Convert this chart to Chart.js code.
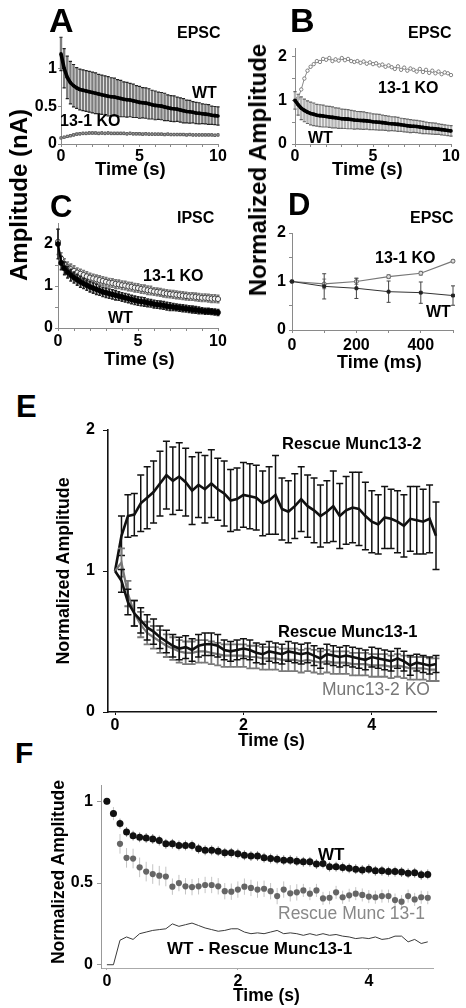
<!DOCTYPE html>
<html><head><meta charset="utf-8">
<script src="https://cdn.jsdelivr.net/npm/chart.js@4.4.1/dist/chart.umd.min.js"></script>
<style>
html,body{margin:0;padding:0;background:#fff;}
#fig{position:relative;width:466px;height:1008px;overflow:hidden;background:#fff;font-family:'Liberation Sans',Arial,Helvetica,sans-serif;}
canvas{position:absolute;}
.t{position:absolute;white-space:nowrap;line-height:1;z-index:5;}
.r{position:absolute;white-space:nowrap;line-height:1;z-index:5;transform:translate(-50%,-50%) rotate(-90deg);}
</style></head><body><div id="fig"></div>
<script>
const FONT = "'Liberation Sans', Arial, Helvetica, sans-serif";

// ---------- time bases ----------
const tDense = [0,0.2,0.4,0.6,0.8,1,1.2,1.4,1.6,1.8,2,2.2,2.4,2.6,2.8,3,3.2,3.4,3.6,3.8,4,4.2,4.4,4.6,4.8,5,5.2,5.4,5.6,5.8,6,6.2,6.4,6.6,6.8,7,7.2,7.4,7.6,7.8,8,8.2,8.4,8.6,8.8,9,9.2,9.4,9.6,9.8,10];
const tE = [0,0.1,0.2,0.3,0.4,0.5,0.6,0.7,0.8,0.9,1,1.1,1.2,1.3,1.4,1.5,1.6,1.7,1.8,1.9,2,2.1,2.2,2.3,2.4,2.5,2.6,2.7,2.8,2.9,3,3.1,3.2,3.3,3.4,3.5,3.6,3.7,3.8,3.9,4,4.1,4.2,4.3,4.4,4.5,4.6,4.7,4.8,4.9,5];
const tF = [0,0.1,0.2,0.3,0.4,0.5,0.6,0.7,0.8,0.9,1,1.1,1.2,1.3,1.4,1.5,1.6,1.7,1.8,1.9,2,2.1,2.2,2.3,2.4,2.5,2.6,2.7,2.8,2.9,3,3.1,3.2,3.3,3.4,3.5,3.6,3.7,3.8,3.9,4,4.1,4.2,4.3,4.4,4.5,4.6,4.7,4.8,4.9];
const tD = [0,100,200,300,400,500];

// ---------- Panel A (EPSC, nA) ----------
const aWT = [1.19,1.0,0.88,0.81,0.77,0.74,0.72,0.71,0.70,0.69, 0.68,0.67,0.66,0.65,0.64,0.63,0.625,0.62,0.61,0.60, 0.59,0.585,0.58,0.57,0.56,0.55,0.545,0.54,0.53,0.52, 0.51,0.505,0.50,0.49,0.48,0.47,0.465,0.46,0.45,0.44, 0.43,0.425,0.42,0.41,0.405,0.40,0.395,0.39,0.38,0.375, 0.37];
const aWTerr = [0.22,0.26,0.28,0.28,0.28,0.27,0.27,0.27,0.27,0.27, 0.27,0.27,0.26,0.26,0.26,0.26,0.25,0.25,0.24,0.24, 0.23,0.23,0.22,0.22,0.21,0.21,0.2,0.2,0.2,0.19, 0.19,0.18,0.18,0.18,0.17,0.17,0.17,0.16,0.16,0.16, 0.15,0.15,0.14,0.14,0.14,0.13,0.13,0.13,0.12,0.12, 0.12];
const aKO = [0.08,0.09,0.10,0.11,0.12,0.13,0.135,0.14,0.14,0.145, 0.145,0.145,0.14,0.145,0.14,0.145,0.14,0.14,0.14,0.14, 0.14,0.135,0.14,0.135,0.135,0.135,0.13,0.135,0.13,0.13, 0.13,0.13,0.13,0.125,0.13,0.125,0.125,0.125,0.125,0.125, 0.12,0.125,0.12,0.12,0.12,0.12,0.12,0.12,0.12,0.115, 0.12];
const aKOerr = [0.01,0.012,0.014,0.015,0.016,0.016,0.016,0.016,0.016,0.016, 0.016,0.016,0.016,0.016,0.016,0.016,0.016,0.016,0.016,0.016, 0.016,0.016,0.016,0.016,0.016,0.016,0.016,0.016,0.016,0.016, 0.015,0.015,0.015,0.015,0.015,0.015,0.015,0.015,0.015,0.015, 0.015,0.015,0.015,0.015,0.015,0.015,0.015,0.015,0.015,0.015, 0.015];

// ---------- Panel B (EPSC, normalized) ----------
const bWT = [1.0,0.9,0.82,0.77,0.73,0.70,0.68,0.66,0.65,0.64, 0.63,0.62,0.61,0.60,0.59,0.58,0.575,0.57,0.56,0.55, 0.545,0.54,0.535,0.53,0.52,0.51,0.505,0.50,0.49,0.48, 0.47,0.465,0.46,0.45,0.44,0.43,0.42,0.41,0.405,0.40, 0.39,0.38,0.37,0.36,0.355,0.35,0.34,0.33,0.32,0.31, 0.30];
const bWTerr = [0.2,0.24,0.26,0.26,0.26,0.26,0.26,0.25,0.25,0.25, 0.24,0.24,0.24,0.23,0.23,0.22,0.22,0.22,0.21,0.21, 0.2,0.2,0.2,0.19,0.19,0.18,0.18,0.18,0.17,0.17, 0.17,0.16,0.16,0.16,0.15,0.15,0.15,0.15,0.14,0.14, 0.14,0.14,0.13,0.13,0.13,0.13,0.12,0.12,0.12,0.12, 0.12];
const bKO = [1.0,1.05,1.25,1.5,1.68,1.77,1.83,1.9,1.88,1.95, 1.93,1.97,1.9,1.94,1.91,1.97,1.92,1.95,1.9,1.88, 1.9,1.86,1.89,1.84,1.87,1.83,1.85,1.8,1.82,1.77, 1.8,1.76,1.72,1.78,1.7,1.75,1.68,1.73,1.7,1.66, 1.72,1.65,1.7,1.63,1.68,1.62,1.66,1.6,1.64,1.62, 1.58];
const bKOerr = [0.03,0.04,0.04,0.04,0.04,0.04,0.04,0.04,0.04,0.04, 0.04,0.04,0.04,0.04,0.04,0.04,0.04,0.04,0.04,0.04, 0.04,0.04,0.04,0.04,0.04,0.04,0.04,0.04,0.04,0.04, 0.04,0.04,0.04,0.04,0.04,0.04,0.04,0.04,0.04,0.04, 0.04,0.04,0.04,0.04,0.04,0.04,0.04,0.04,0.04,0.04, 0.04];

// ---------- Panel C (IPSC, nA) ----------
const cWT = [2.0,1.55,1.42,1.33,1.26,1.2,1.15,1.1,1.06,1.02, 0.98,0.95,0.92,0.89,0.86,0.84,0.82,0.8,0.78,0.76, 0.74,0.72,0.7,0.68,0.66,0.64,0.63,0.62,0.6,0.59, 0.57,0.56,0.55,0.54,0.52,0.51,0.5,0.49,0.48,0.47, 0.46,0.45,0.44,0.43,0.42,0.41,0.4,0.4,0.39,0.38, 0.37];
const cWTerr = [0.35,0.16,0.15,0.14,0.14,0.13,0.13,0.13,0.12,0.12, 0.12,0.12,0.12,0.11,0.11,0.11,0.11,0.11,0.11,0.1, 0.1,0.1,0.1,0.1,0.1,0.1,0.1,0.1,0.09,0.09, 0.09,0.09,0.09,0.09,0.09,0.09,0.08,0.08,0.08,0.08, 0.08,0.08,0.08,0.08,0.08,0.07,0.07,0.07,0.07,0.07, 0.07];
const cKO = [2.05,1.65,1.52,1.45,1.4,1.36,1.32,1.29,1.26,1.23, 1.2,1.18,1.16,1.14,1.12,1.1,1.08,1.07,1.05,1.04, 1.02,1.01,0.99,0.98,0.96,0.95,0.93,0.92,0.9,0.89, 0.87,0.86,0.85,0.83,0.82,0.81,0.8,0.79,0.78,0.77, 0.76,0.75,0.75,0.74,0.73,0.72,0.72,0.71,0.7,0.7, 0.69];
const cKOerr = [0.3,0.14,0.13,0.12,0.12,0.12,0.11,0.11,0.11,0.11, 0.1,0.1,0.1,0.1,0.1,0.1,0.1,0.1,0.1,0.1, 0.1,0.1,0.1,0.1,0.1,0.1,0.1,0.1,0.1,0.1, 0.09,0.09,0.09,0.09,0.09,0.09,0.09,0.09,0.09,0.09, 0.09,0.09,0.09,0.09,0.09,0.09,0.09,0.09,0.09,0.09, 0.09];

// ---------- Panel D (EPSC, normalized, ms) ----------
const dWT = [1.0,0.9,0.86,0.79,0.77,0.71];
const dWTerr = [0,0.26,0.21,0.22,0.22,0.2];
const dKO = [1.0,0.95,1.0,1.1,1.17,1.42];
const dKOerr = [0,0.1,0.06,0.04,0.04,0.03];

// ---------- Panel E ----------
const eRescue2 = [1.0,1.25,1.39,1.40,1.48,1.52,1.56,1.62,1.68,1.64, 1.67,1.63,1.57,1.61,1.58,1.62,1.58,1.55,1.50,1.51, 1.54,1.53,1.52,1.48,1.50,1.54,1.44,1.42,1.46,1.51, 1.46,1.43,1.39,1.42,1.46,1.39,1.43,1.45,1.44,1.39, 1.35,1.33,1.38,1.37,1.35,1.32,1.37,1.36,1.35,1.37, 1.25];
const eRescue2err = [0,0.14,0.15,0.15,0.2,0.22,0.22,0.23,0.24,0.24, 0.24,0.24,0.24,0.23,0.24,0.24,0.22,0.23,0.22,0.22, 0.23,0.23,0.23,0.23,0.24,0.28,0.22,0.22,0.23,0.23, 0.22,0.23,0.22,0.22,0.25,0.23,0.24,0.25,0.26,0.24, 0.22,0.21,0.22,0.21,0.22,0.22,0.23,0.24,0.23,0.24, 0.24];
const eRescue1 = [1.0,0.93,0.78,0.70,0.65,0.60,0.57,0.53,0.50,0.47, 0.45,0.46,0.44,0.47,0.48,0.48,0.47,0.44,0.43,0.44, 0.45,0.44,0.42,0.41,0.43,0.42,0.41,0.43,0.42,0.41, 0.42,0.40,0.38,0.41,0.40,0.39,0.40,0.39,0.38,0.37, 0.39,0.38,0.37,0.36,0.38,0.36,0.33,0.35,0.34,0.33, 0.34];
const eRescue1err = [0,0.08,0.09,0.09,0.09,0.09,0.09,0.08,0.08,0.08, 0.08,0.08,0.08,0.08,0.08,0.08,0.08,0.07,0.07,0.07, 0.07,0.07,0.07,0.07,0.07,0.07,0.07,0.07,0.07,0.07, 0.07,0.07,0.07,0.07,0.07,0.07,0.07,0.07,0.07,0.07, 0.07,0.07,0.07,0.07,0.07,0.07,0.07,0.06,0.06,0.06, 0.06];
const eKO = [1.0,1.06,0.84,0.70,0.62,0.56,0.53,0.50,0.47,0.45, 0.43,0.42,0.42,0.43,0.43,0.42,0.41,0.40,0.40,0.40, 0.40,0.39,0.39,0.38,0.38,0.38,0.37,0.37,0.37,0.36, 0.37,0.36,0.35,0.36,0.35,0.35,0.35,0.34,0.34,0.34, 0.33,0.33,0.33,0.32,0.33,0.32,0.31,0.31,0.31,0.30, 0.30];
const eKOerr = [0,0.1,0.09,0.09,0.09,0.08,0.08,0.08,0.08,0.08, 0.08,0.08,0.08,0.08,0.08,0.08,0.08,0.08,0.08,0.08, 0.08,0.08,0.08,0.08,0.08,0.08,0.08,0.08,0.08,0.08, 0.08,0.08,0.08,0.08,0.08,0.08,0.08,0.08,0.08,0.08, 0.08,0.08,0.08,0.08,0.08,0.08,0.08,0.08,0.08,0.08, 0.08];

// ---------- Panel F ----------
const fWT = [1.0,0.925,0.864,0.813,0.79,0.78,0.776,0.77,0.76,0.74, 0.74,0.73,0.73,0.73,0.71,0.70,0.70,0.695,0.685,0.685, 0.68,0.67,0.665,0.665,0.655,0.65,0.645,0.64,0.64,0.634, 0.63,0.63,0.616,0.62,0.60,0.60,0.595,0.59,0.585,0.58, 0.585,0.575,0.575,0.57,0.57,0.567,0.56,0.563,0.55,0.553];
const fWTerr = [0,0.02,0.03,0.03,0.03,0.03,0.03,0.03,0.03,0.03, 0.03,0.03,0.03,0.03,0.03,0.03,0.03,0.03,0.03,0.03, 0.03,0.03,0.03,0.03,0.03,0.03,0.03,0.03,0.03,0.03, 0.03,0.03,0.03,0.03,0.03,0.03,0.03,0.03,0.03,0.03, 0.03,0.03,0.03,0.03,0.03,0.03,0.03,0.03,0.03,0.03];
const fRescue = [1.0,0.925,0.74,0.654,0.65,0.596,0.57,0.555,0.545,0.54, 0.478,0.50,0.48,0.475,0.48,0.488,0.488,0.48,0.45,0.447, 0.46,0.478,0.47,0.46,0.465,0.45,0.42,0.46,0.437,0.443, 0.455,0.435,0.455,0.406,0.41,0.443,0.413,0.425,0.435,0.427, 0.417,0.413,0.42,0.42,0.396,0.386,0.42,0.40,0.413,0.41];
const fRescueErr = [0,0.04,0.06,0.06,0.06,0.06,0.06,0.06,0.06,0.06, 0.05,0.05,0.05,0.05,0.05,0.05,0.05,0.05,0.05,0.05, 0.05,0.05,0.05,0.05,0.05,0.05,0.05,0.05,0.05,0.05, 0.04,0.04,0.04,0.04,0.04,0.04,0.04,0.04,0.04,0.04, 0.04,0.04,0.04,0.04,0.04,0.04,0.04,0.04,0.04,0.04];
const fDiff = [0.0,0.0,0.15,0.17,0.155,0.19,0.20,0.21,0.215,0.22, 0.25,0.235,0.245,0.255,0.24,0.225,0.215,0.205,0.21,0.22, 0.22,0.20,0.19,0.195,0.19,0.20,0.21,0.19,0.195,0.19, 0.18,0.19,0.18,0.19,0.18,0.185,0.175,0.17,0.16,0.165, 0.16,0.17,0.155,0.16,0.175,0.175,0.14,0.155,0.13,0.14];

// ---------- tick values and labels ----------
const ticks10 = [0,1,2,3,4,5,6,7,8,9,10], labels10 = [0,5,10];
const ticksA_y = [0,0.5,1], labelsA_y = [0,0.5,1];
const ticks2 = [0,0.5,1,1.5,2], labels2 = [0,1,2];
const ticksD_x = [0,100,200,300,400,500], labelsD_x = [0,200,400];
const ticksE_x = [0,2,4], ticksE_y = [0,1,2];
const ticksF_x = [0,2,4], ticksF_y = [0,0.5,1];

// ---------- helpers ----------
const fig = document.getElementById('fig');
Chart.defaults.font.family = FONT;
const pts = (xs, ys) => xs.map((x, i) => ({x: x, y: ys[i]}));

const errPlugin = {
  id: 'errbars',
  beforeDatasetDraw(chart, args) {
    const ds = chart.data.datasets[args.index];
    if (!ds.err) return;
    const xs = chart.scales.x, ys = chart.scales.y, ctx = chart.ctx;
    ctx.save();
    ctx.strokeStyle = ds.errColor || '#000';
    ctx.lineWidth = ds.errWidth || 1;
    ds.data.forEach((p, i) => {
      const e = ds.err[i];
      if (!e) return;
      const x = xs.getPixelForValue(p.x);
      const y1 = ys.getPixelForValue(p.y + e), y2 = ys.getPixelForValue(p.y - e);
      ctx.beginPath();
      ctx.moveTo(x, y1); ctx.lineTo(x, y2);
      ctx.stroke();
      if (ds.cap) {
        ctx.save();
        ctx.strokeStyle = ds.capColor || ctx.strokeStyle;
        ctx.lineWidth = ds.capWidth || ctx.lineWidth;
        ctx.beginPath();
        ctx.moveTo(x - ds.cap, y1); ctx.lineTo(x + ds.cap, y1);
        ctx.moveTo(x - ds.cap, y2); ctx.lineTo(x + ds.cap, y2);
        ctx.stroke();
        ctx.restore();
      }
    });
    ctx.restore();
  }
};

function axis(which, o, size) {
  return {
    type: 'linear', min: o.min, max: o.max, bounds: 'data',
    afterBuildTicks: s => { s.ticks = o.ticks.map(v => ({value: v})); },
    afterFit: s => {
      if (which === 'x') { s.height = size; s.paddingLeft = 0; s.paddingRight = 0; }
      else { s.width = size; s.paddingTop = 0; s.paddingBottom = 0; }
    },
    ticks: {
      autoSkip: false, maxRotation: 0, minRotation: 0, padding: o.pad, color: '#000',
      font: {family: FONT, size: o.fs, weight: 'bold'},
      callback: v => o.labels.includes(v) ? String(v) : ''
    },
    grid: {drawOnChartArea: false, drawTicks: true, tickLength: o.tl, color: o.color, lineWidth: o.tw || 1},
    border: {display: true, color: o.color, width: o.aw}
  };
}

function makeChart(rect, pad, datasets, xo, yo) {
  const c = document.createElement('canvas');
  const w = rect.r - rect.l + pad.l + pad.r, h = rect.b - rect.t + pad.t + pad.b;
  c.width = w; c.height = h;
  c.style.left = (rect.l - pad.l) + 'px'; c.style.top = (rect.t - pad.t) + 'px';
  c.style.width = w + 'px'; c.style.height = h + 'px';
  fig.appendChild(c);
  return new Chart(c, {
    type: 'line',
    data: {datasets: datasets},
    options: {
      responsive: false, animation: false, devicePixelRatio: 1, events: [],
      layout: {padding: {left: 0, top: pad.t, right: pad.r, bottom: 0}},
      plugins: {legend: {display: false}, tooltip: {enabled: false}},
      scales: {x: axis('x', xo, pad.b), y: axis('y', yo, pad.l)}
    },
    plugins: [errPlugin]
  });
}

const GREY_AX = '#8a8a8a';
const padStd = {l: 48, r: 14, t: 12, b: 28};

// Panel A
makeChart({l: 61, r: 218, t: 38, b: 144}, padStd, [
  {data: pts(tDense, aWT), borderColor: '#000', borderWidth: 3.6, pointRadius: 1.8, pointBackgroundColor: '#000', pointBorderWidth: 0,
   err: aWTerr, errColor: '#7c7c7c', errWidth: 2.4, cap: 1.6, capColor: '#222', capWidth: 1.2, clip: false},
  {data: pts(tDense, aKO), borderColor: '#777', borderWidth: 1, pointRadius: 1.6, pointStyle: 'rect', pointBackgroundColor: '#aaa', pointBorderColor: '#555', pointBorderWidth: 0.8,
   err: aKOerr, errColor: '#666', errWidth: 1, cap: 1.2, clip: false}
], {min: 0, max: 10, ticks: ticks10, labels: labels10, fs: 16, tl: 3, pad: 0, color: GREY_AX, aw: 1},
   {min: 0, max: 1.4, ticks: ticksA_y, labels: labelsA_y, fs: 16, tl: 3, pad: 1, color: GREY_AX, aw: 1});

// Panel B
makeChart({l: 295, r: 451, t: 48, b: 144}, padStd, [
  {data: pts(tDense, bWT), borderColor: '#000', borderWidth: 3.6, pointRadius: 1.8, pointBackgroundColor: '#000', pointBorderWidth: 0,
   err: bWTerr, errColor: '#b4b4b4', errWidth: 2.4, cap: 1.6, capColor: '#666', capWidth: 1.2, clip: false},
  {data: pts(tDense, bKO), borderColor: '#8a8a8a', borderWidth: 1, pointRadius: 1.7, pointBackgroundColor: '#fff', pointBorderColor: '#777', pointBorderWidth: 0.9,
   err: bKOerr, errColor: '#999', errWidth: 1, clip: false}
], {min: 0, max: 10, ticks: ticks10, labels: labels10, fs: 16, tl: 3, pad: 0, color: GREY_AX, aw: 1},
   {min: 0, max: 2.2, ticks: ticks2, labels: labels2, fs: 16, tl: 3, pad: 5, color: GREY_AX, aw: 1});

// Panel C
makeChart({l: 58, r: 218, t: 223, b: 328}, padStd, [
  {data: pts(tDense, cWT), borderColor: '#000', borderWidth: 2, pointRadius: 2.6, pointBackgroundColor: '#000', pointBorderColor: '#000', pointBorderWidth: 0.5,
   err: cWTerr, errColor: '#222', errWidth: 1.6, cap: 1.5, clip: false},
  {data: pts(tDense, cKO), borderColor: '#666', borderWidth: 1, pointRadius: 2.6, pointBackgroundColor: '#f2f2f2', pointBorderColor: '#444', pointBorderWidth: 1,
   err: cKOerr, errColor: '#777', errWidth: 1.6, cap: 1.5, clip: false}
], {min: 0, max: 10, ticks: ticks10, labels: labels10, fs: 16, tl: 3, pad: 1, color: GREY_AX, aw: 1},
   {min: 0, max: 2.5, ticks: ticks2, labels: labels2, fs: 16, tl: 3, pad: 2, color: GREY_AX, aw: 1});

// Panel D
makeChart({l: 292, r: 453, t: 233, b: 330}, padStd, [
  {data: pts(tD, dWT), borderColor: '#333', borderWidth: 1, pointRadius: 2, pointStyle: 'rect', pointBackgroundColor: '#222', pointBorderColor: '#222',
   err: dWTerr, errColor: '#444', errWidth: 1, cap: 2, clip: false},
  {data: pts(tD, dKO), borderColor: '#777', borderWidth: 1.2, pointRadius: 2, pointBackgroundColor: '#ddd', pointBorderColor: '#666', pointBorderWidth: 1,
   err: dKOerr, errColor: '#888', errWidth: 1, cap: 2, clip: false}
], {min: 0, max: 500, ticks: ticksD_x, labels: labelsD_x, fs: 16, tl: 3, pad: 3, color: GREY_AX, aw: 1},
   {min: 0, max: 2, ticks: ticks2, labels: labels2, fs: 16, tl: 3, pad: 3, color: GREY_AX, aw: 1});

// Panel E
makeChart({l: 108, r: 436, t: 430, b: 712}, {l: 50, r: 14, t: 12, b: 28}, [
  {data: pts(tE, eRescue1), borderColor: '#111', borderWidth: 2.6, pointRadius: 0,
   err: eRescue1err, errColor: '#111', errWidth: 1.5, cap: 3.5, clip: false},
  {data: pts(tE, eKO), borderColor: '#777', borderWidth: 2.2, pointRadius: 0,
   err: eKOerr, errColor: '#7a7a7a', errWidth: 1.8, cap: 3.5, clip: false},
  {data: pts(tE, eRescue2), borderColor: '#111', borderWidth: 2.6, pointRadius: 0,
   err: eRescue2err, errColor: '#111', errWidth: 1.5, cap: 3.5, clip: false}
], {min: -0.11, max: 5.0, ticks: ticksE_x, labels: ticksE_x, fs: 16, tl: 3, pad: 1, color: '#111', aw: 1.6},
   {min: 0, max: 2, ticks: ticksE_y, labels: ticksE_y, fs: 16, tl: 5, pad: 8, color: '#111', aw: 1.6});

// Panel F
makeChart({l: 101, r: 433, t: 785, b: 968}, {l: 50, r: 14, t: 12, b: 28}, [
  {data: pts(tF, fWT), borderColor: 'rgba(0,0,0,0)', borderWidth: 0, showLine: false, pointRadius: 3.5, pointBackgroundColor: '#111', pointBorderColor: '#111', pointBorderWidth: 0,
   err: fWTerr, errColor: '#8a8a8a', errWidth: 1, clip: false},
  {data: pts(tF, fRescue), borderColor: 'rgba(0,0,0,0)', borderWidth: 0, showLine: false, pointRadius: 3.1, pointBackgroundColor: '#666', pointBorderColor: '#666', pointBorderWidth: 0,
   err: fRescueErr, errColor: '#c4c4c4', errWidth: 1, clip: false},
  {data: pts(tF, fDiff), borderColor: '#3a3a3a', borderWidth: 1, pointRadius: 0, clip: false}
], {min: -0.09, max: 4.98, ticks: ticksF_x, labels: ticksF_x, fs: 16, tl: 2, pad: 2, color: '#aaa', aw: 1},
   {min: -0.02, max: 1.1, ticks: ticksF_y, labels: ticksF_y, fs: 16, tl: 4, pad: 4, color: '#999', aw: 1});

// ---------- text overlays ----------
function addText(txt, left, capTop, fs, weight, color) {
  const d = document.createElement('div');
  d.className = 't';
  d.textContent = txt;
  d.style.left = left + 'px';
  d.style.top = (capTop - 0.13 * fs) + 'px';
  d.style.fontSize = fs + 'px';
  d.style.fontWeight = weight || 'bold';
  d.style.color = color || '#000';
  fig.appendChild(d);
}
function addRot(txt, cx, cy, fs) {
  const d = document.createElement('div');
  d.className = 'r';
  d.textContent = txt;
  d.style.left = cx + 'px'; d.style.top = cy + 'px';
  d.style.fontSize = fs + 'px'; d.style.fontWeight = 'bold';
  fig.appendChild(d);
}
addText('A', 49, 7, 34); addText('B', 290, 7, 34);
addText('C', 50, 195, 31); addText('D', 288, 193, 31);
addText('E', 16, 395, 31); addText('F', 15, 742, 30);
addText('EPSC', 177, 27, 16); addText('EPSC', 408, 27, 16);
addText('IPSC', 177, 212, 16); addText('EPSC', 410, 212, 16);
addText('WT', 192, 87, 16); addText('13-1 KO', 60, 115, 16);
addText('13-1 KO', 378, 82, 16); addText('WT', 308, 132, 16);
addText('13-1 KO', 143, 270, 16); addText('WT', 108, 312, 16);
addText('13-1 KO', 375, 252, 16); addText('WT', 426, 306, 16);
addText('Time (s)', 95, 162, 18.5); addText('Time (s)', 332, 162, 18.5);
addText('Time (s)', 104, 352, 18.5); addText('Time (ms)', 337, 355, 18);
addText('Rescue Munc13-2', 282, 437, 16.5); addText('Rescue Munc13-1', 278, 625, 16.5);
addText('Munc13-2 KO', 322, 683, 17.5, 'normal', '#777');
addText('Time (s)', 238, 734, 17.5);
addText('WT', 318, 848, 17);
addText('Rescue Munc 13-1', 278, 907, 17.5, 'normal', '#888');
addText('WT - Rescue Munc13-1', 167, 942, 17);
addText('Time (s)', 233, 989, 17.5);
addRot('Amplitude (nA)', 19, 195, 24);
addRot('Normalized Amplitude', 258, 170, 24);
addRot('Normalized Amplitude', 63.5, 571, 17.8);
addRot('Normalized Amplitude', 58.5, 872, 17.5);
</script></body></html>
